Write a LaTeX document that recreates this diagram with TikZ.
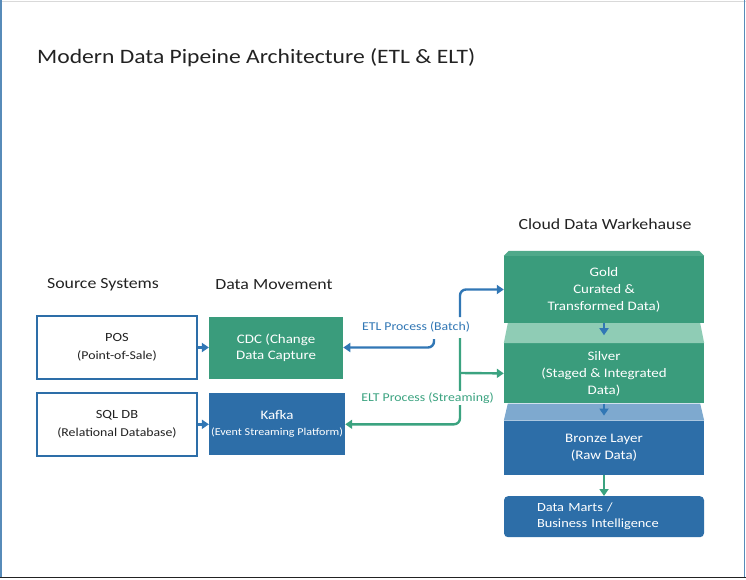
\documentclass[tikz,border=0pt]{standalone}
\usepackage{fontspec}
\setmainfont{Carlito}[FakeStretch=1.15]
\usepackage{xcolor}
\usepackage{tikz}
\usetikzlibrary{arrows.meta, positioning}

\definecolor{dgreen}{HTML}{3A9C7C}
\definecolor{lgreen}{HTML}{8FCCB5}
\definecolor{tgreen}{HTML}{4FA98A}
\definecolor{dblue}{HTML}{2D6EA8}
\definecolor{lblue}{HTML}{7EA9CF}
\definecolor{lineblue}{HTML}{3177B5}
\definecolor{linegreen}{HTML}{3BA380}
\definecolor{ink}{HTML}{222222}

\begin{document}
\begin{tikzpicture}[
    x=1pt, y=-1pt,
    head/.style={font=\fontsize{15.5}{18}\selectfont, text=ink},
    srcbox/.style={rectangle, draw=dblue, line width=1.8pt, fill=white, minimum width=160pt, minimum height=63pt, inner sep=2pt, align=center, text=ink, font=\fontsize{12.5}{18}\selectfont},
    movebox/.style={rectangle, minimum width=134pt, minimum height=62pt, inner sep=2pt, align=center, text=white, font=\fontsize{13}{16}\selectfont},
    layer/.style={rectangle, minimum width=200pt, inner sep=2pt, align=center, text=white, font=\fontsize{13}{17}\selectfont},
    lbl/.style={fill=white, inner sep=2pt, font=\fontsize{12}{14}\selectfont},
    arrow/.style={-{Triangle[length=7pt, width=9pt]}, line width=2.4pt, rounded corners=6pt}
]
    \useasboundingbox (0,0) rectangle (746,580);

    % Frame
    \draw[line width=0.8pt, black!15] (0,1) -- (746,1);
    \draw[line width=1.5pt, dblue!80] (1,0) -- (1,578);
    \draw[line width=1.5pt, dblue!80] (744.5,0) -- (744.5,578);
    \draw[line width=1.5pt, ink] (0,577.5) -- (746,577.5);

    % Title
    \node[anchor=base west, text=ink, font=\fontsize{20.5}{24}\selectfont, inner sep=0pt] (title) at (37,64) {Modern Data Pipeine Architecture (ETL \& ELT)};

    % Headings
    \node[head] (srchead) at (103,285) {Source Systems};
    \node[head] (movehead) at (274,285) {Data Movement};
    \node[head] (cloudhead) at (605,224) {Cloud Data Warkehause};

    % Sources
    \node[srcbox] (pos) at (117,347.5) {POS\\{\fontsize{12}{14}\selectfont (Point-of-Sale)}};
    \node[srcbox, below=12pt of pos] (sqldb) {SQL DB\\{\fontsize{12}{14}\selectfont (Relational Database)}};

    % Data movement
    \node[movebox, fill=dgreen, right=11pt of pos] (cdc) {CDC (Change\\Data Capture};
    \node[movebox, fill=dblue, right=11pt of sqldb] (kafka) {Kafka\\{\fontsize{10.5}{13}\selectfont (Event Streaming Platform)}};

    % Warehouse layers
    \node[layer, fill=dgreen, minimum height=67pt] (gold) at (604,289.5) {Gold\\Curated \&\\Transformed Data)};
    \node[layer, fill=dgreen, minimum height=60pt, below=20pt of gold] (silver) {Silver\\(Staged \& Integrated\\Data)};
    \node[layer, fill=dblue, minimum height=54pt, below=17pt of silver] (bronze) {Bronze Layer\\(Raw Data)};
    \node[layer, fill=dblue, rounded corners=4pt, minimum height=41pt, inner xsep=33pt, text width=134pt, align=left, font=\fontsize{12.5}{16}\selectfont, below=21pt of bronze] (marts) {Data Marts /\\Business Intelligence};

    % Layer bands
    \fill[tgreen] ([xshift=5pt, yshift=5pt]gold.north west) -- ([xshift=-5pt, yshift=5pt]gold.north east) -- (gold.north east) -- (gold.north west) -- cycle;
    \fill[lgreen] ([xshift=4pt]gold.south west) -- ([xshift=-4pt]gold.south east) -- (silver.north east) -- (silver.north west) -- cycle;
    \fill[lblue] ([xshift=4pt]silver.south west) -- ([xshift=-4pt]silver.south east) -- (bronze.north east) -- (bronze.north west) -- cycle;

    % Connectors
    \coordinate (etltop) at (460,317);
    \coordinate (etlhook) at (434,339);
    \coordinate (elttop) at (460,338);
    \coordinate (eltfork) at (460,373);

    \draw[arrow, lineblue] (pos) -- (cdc);
    \draw[arrow, lineblue] (sqldb) -- (kafka);
    \draw[arrow, lineblue] (etltop) |- (gold.west);
    \draw[arrow, lineblue] (etlhook) |- (cdc.east);
    \draw[arrow, linegreen] (elttop) |- (kafka.east);
    \draw[arrow, linegreen] (eltfork) -- (silver.west);
    \draw[arrow, lineblue, shorten >=8pt] (gold) -- (silver);
    \draw[arrow, lineblue, shorten >=5pt] (silver) -- (bronze);
    \draw[arrow, linegreen] (bronze) -- (marts);

    % Process labels
    \node[lbl, text=lineblue] (etl) at (416,327) {ETL Process (Batch)};
    \node[lbl, text=linegreen] (elt) at (427.5,398) {ELT Process (Streaming)};
\end{tikzpicture}
\end{document}
